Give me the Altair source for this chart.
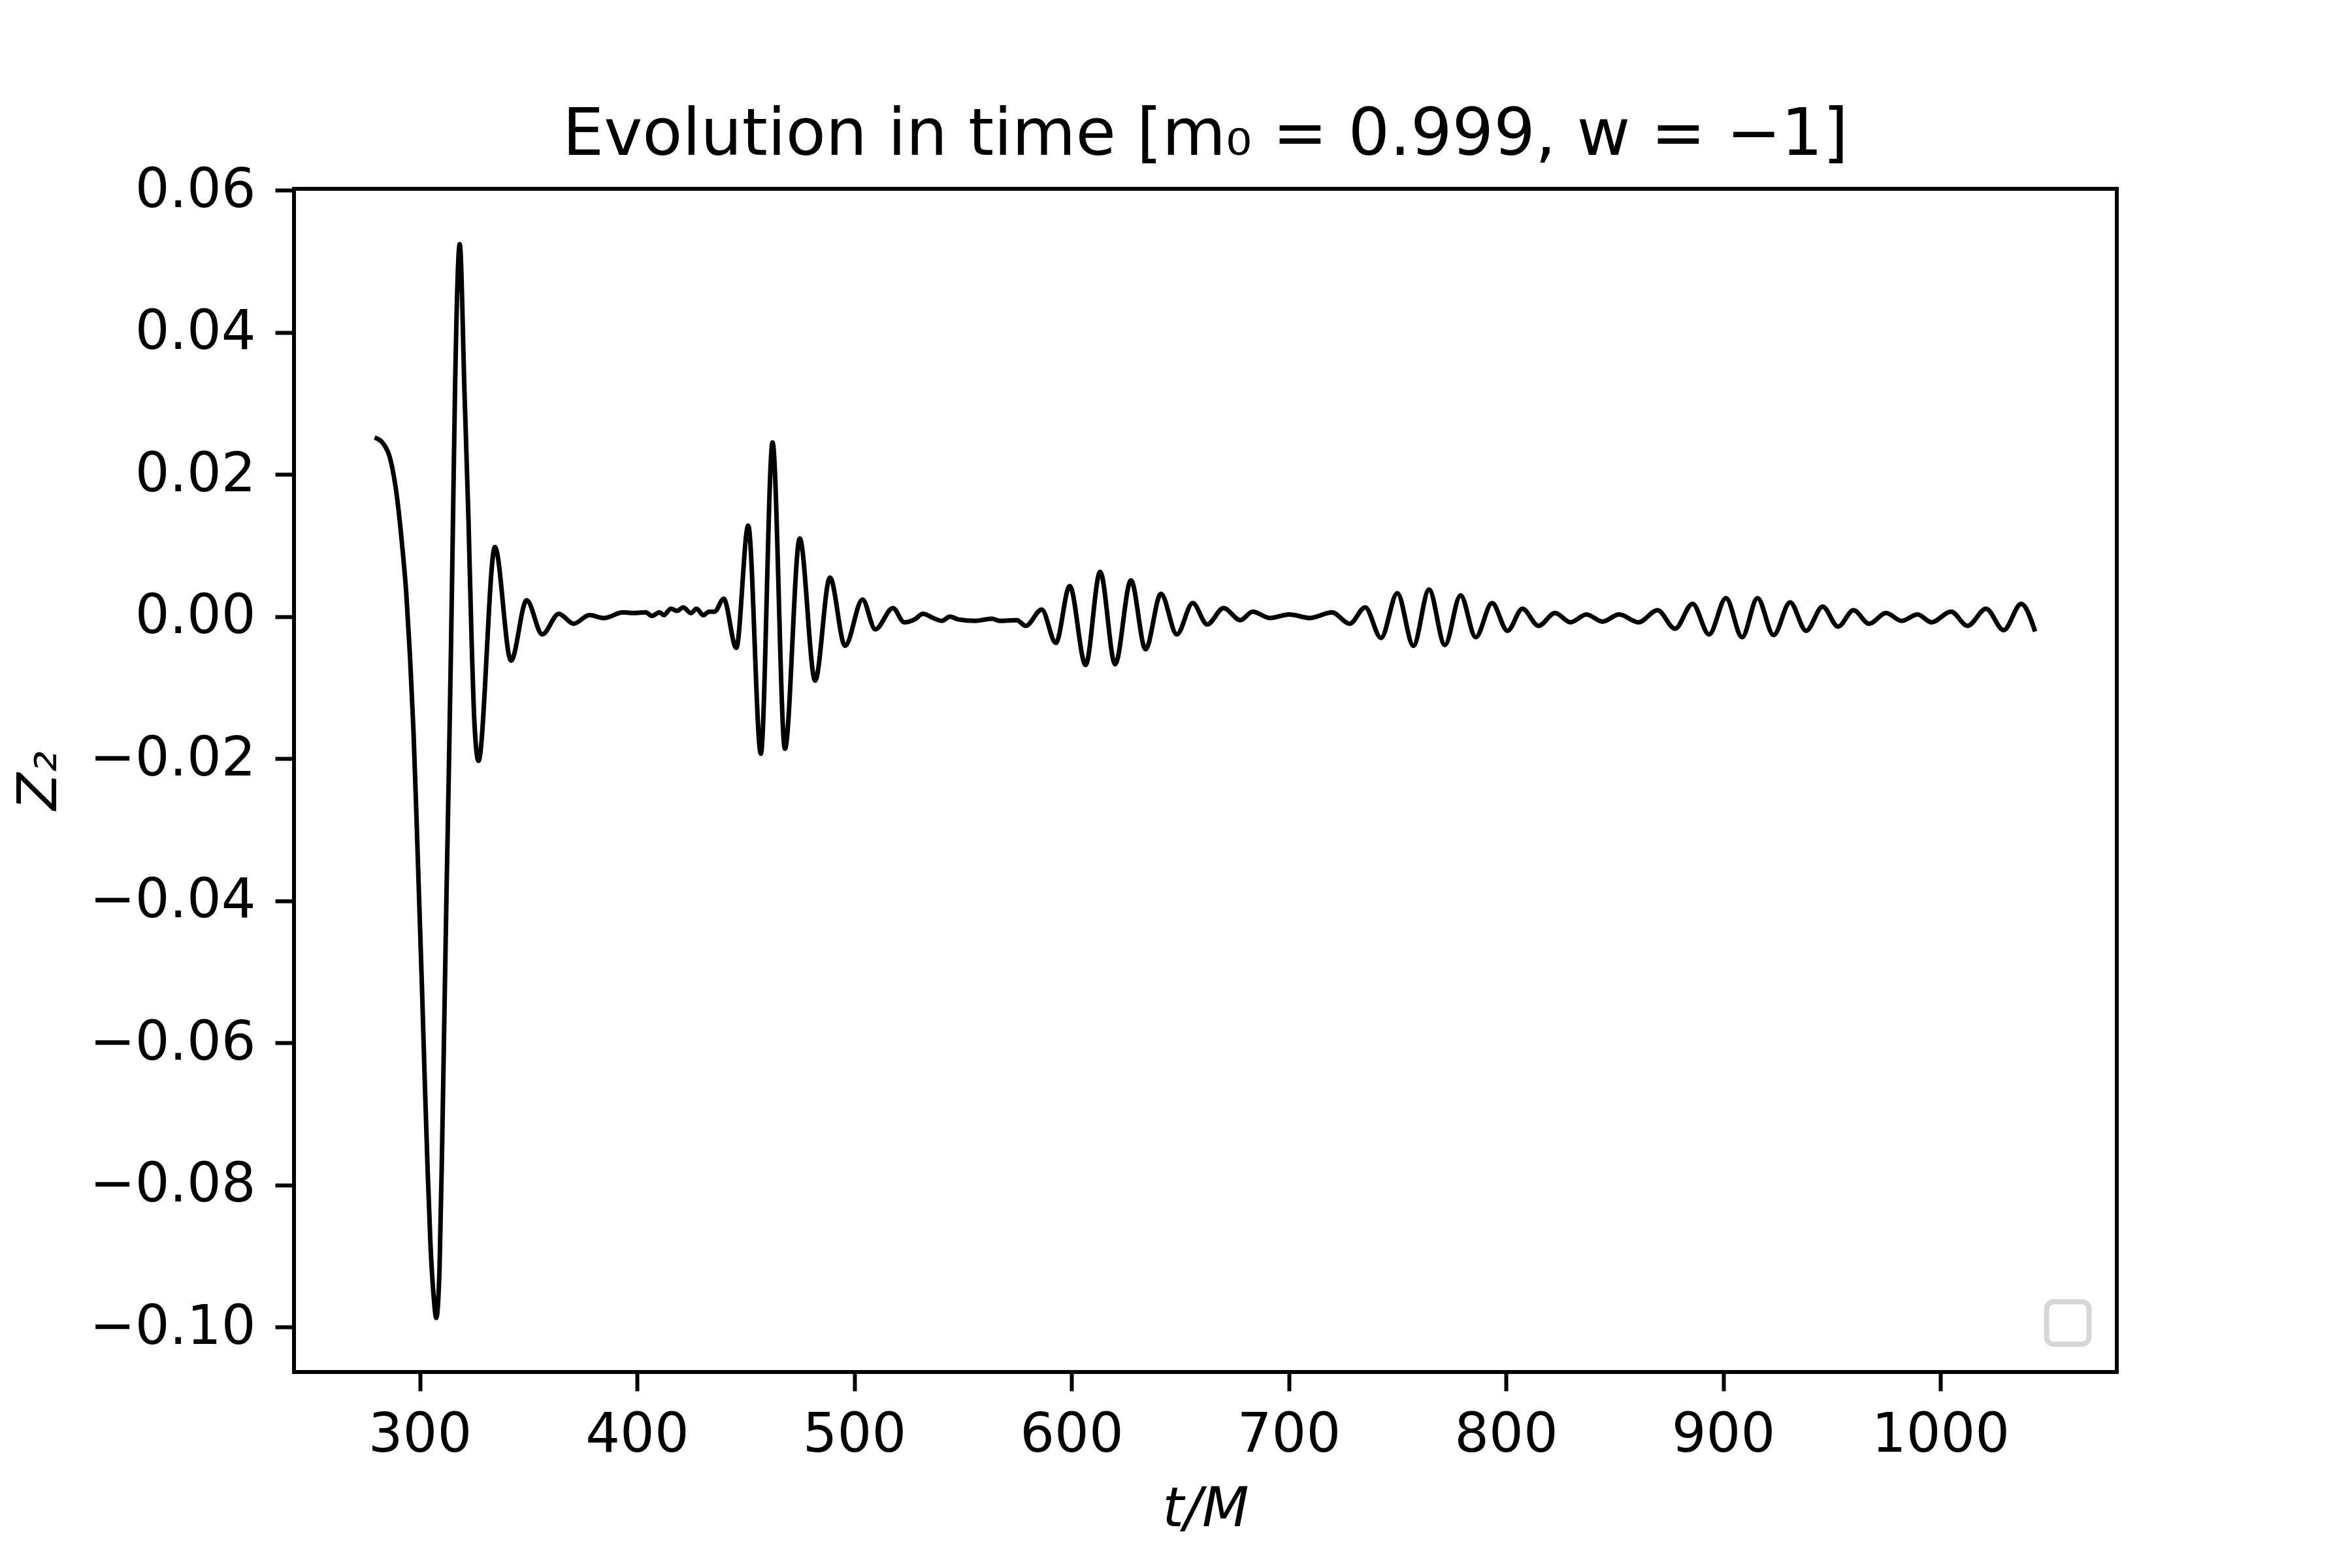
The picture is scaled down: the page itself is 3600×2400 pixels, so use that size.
import altair as alt
import pandas as pd

# time values (t/M)
t_vals = [
    279.2, 283.3, 286.8, 289.3, 291.8, 293.8, 295.5, 297.1, 298.5, 299.8,
    301.1, 302.3, 303.6, 304.9, 306.3, 307.6, 309.1, 310.3, 311.3, 312.3,
    313.4, 314.4, 315.3, 316.2, 318.4, 320.6, 322.4, 323.9, 325.2, 327.0,
    334.6, 342.0, 349.2, 356.4, 364.0, 370.8, 378.1, 384.9,
    393.5, 398.3, 404.0, 406.9, 410.4, 412.3, 415.6, 418.4, 421.3, 424.8,
    427.4, 430.5, 433.2, 435.7, 439.9, 445.7, 451.2, 457.0, 462.4, 468.1,
    474.9, 482.0, 488.8, 495.8, 503.8, 509.7, 517.8, 523.0, 527.8, 531.6,
    536.4, 540.3, 544.1, 547.9, 555.6, 563.3, 567.1, 574.8, 579.0, 586.3,
    592.8, 599.2, 606.5, 613.2, 620.1, 627.4, 634.1, 641.2, 648.5, 655.8,
    662.5, 670.0, 677.7, 683.4, 691.3, 700.3, 709.9, 719.9, 728.1, 735.2,
    742.5, 750.0, 757.4, 764.6, 771.9, 779.1, 786.1, 793.6, 800.7, 807.6,
    815.0, 822.6, 829.7, 837.1, 844.4, 852.1, 861.0, 869.8, 877.8, 885.9,
    893.5, 901.3, 908.7, 915.8, 923.2, 930.8, 938.2, 945.8, 952.9, 960.0,
    967.2, 975.0, 982.1, 989.5, 995.9, 1004.9, 1012.5, 1021.0, 1029.1, 1037.2,
    1043.6,
]

# Z_2 values
z_vals = [
    0.0252, 0.0243, 0.0217, 0.0173, 0.0103, 0.0032, -0.0056, -0.0161, -0.0284, -0.0407,
    -0.0531, -0.0654, -0.0777, -0.0882, -0.0953, -0.0987, -0.0917, -0.0742, -0.0566, -0.0390,
    -0.0214, -0.0038, 0.0138, 0.0314, 0.0524, 0.0314, 0.0138, -0.0038, -0.0152, -0.0203,
    0.0098, -0.0062, 0.0023, -0.0025, 0.0004, -0.0010, 0.0002, -0.0002,
    0.0006, 0.0005, 0.0006, 0.0001, 0.0006, 0.0002, 0.0011, 0.0008, 0.0013, 0.0005,
    0.0011, 0.0002, 0.0007, 0.0007, 0.0025, -0.0044, 0.0128, -0.0193, 0.0245, -0.0186,
    0.0110, -0.0090, 0.0055, -0.0041, 0.0024, -0.0018, 0.0012, -0.0008, -0.0004, 0.0004,
    -0.0002, -0.0006, 0.0000, -0.0004, -0.0006, -0.0003, -0.0006, -0.0005, -0.0013, 0.0010,
    -0.0037, 0.0043, -0.0068, 0.0063, -0.0067, 0.0051, -0.0046, 0.0032, -0.0025, 0.0019,
    -0.0011, 0.0012, -0.0005, 0.0007, -0.0002, 0.0003, -0.0002, 0.0006, -0.0010, 0.0013,
    -0.0030, 0.0033, -0.0041, 0.0038, -0.0040, 0.0030, -0.0029, 0.0019, -0.0020, 0.0011,
    -0.0013, 0.0005, -0.0008, 0.0003, -0.0007, 0.0003, -0.0008, 0.0009, -0.0017, 0.0018,
    -0.0025, 0.0026, -0.0029, 0.0026, -0.0026, 0.0020, -0.0020, 0.0014, -0.0014, 0.0009,
    -0.0010, 0.0005, -0.0006, 0.0003, -0.0008, 0.0007, -0.0013, 0.0011, -0.0019, 0.0018,
    -0.0021,
]

x_ticks = [300, 400, 500, 600, 700, 800, 900, 1000]
y_ticks = [-0.10, -0.08, -0.06, -0.04, -0.02, 0.00, 0.02, 0.04, 0.06]

title_text = "Evolution in time [m\u2080 = 0.999, w = \u22121]"
x_title = "t/M"
y_title = "Z\u2082"

df = pd.DataFrame({"t": t_vals, "z": z_vals})

W, H = 2790, 1811
FONT = "DejaVu Sans"

line = alt.Chart(df).mark_line(
    color="black", strokeWidth=7, interpolate="monotone", strokeJoin="round"
).encode(
    x=alt.X(
        "t:Q",
        scale=alt.Scale(domain=[242.1, 1081.2], nice=False, zero=False),
        axis=alt.Axis(
            values=x_ticks, format="d", title=x_title,
            titleFont=FONT, titleFontSize=83, titleFontStyle="italic",
            titleFontWeight="normal", titleColor="black",
            titleBaseline="alphabetic", titleY=235, titleX=W / 2,
            labelFont=FONT, labelFontSize=83, labelColor="black",
            labelPadding=26, labelOverlap=False, labelFlush=False,
            labelLimit=1000,
            tickSize=29, tickWidth=6, tickColor="black",
            domain=False, grid=False,
        ),
    ),
    y=alt.Y(
        "z:Q",
        scale=alt.Scale(domain=[-0.1063, 0.0602], nice=False, zero=False),
        axis=alt.Axis(
            values=y_ticks, title=y_title,
            labelExpr="replace(format(datum.value, '.2f'), '-', '\u2212')",
            titleFont=FONT, titleFontSize=83, titleFontStyle="italic",
            titleFontWeight="normal", titleColor="black",
            titleAngle=270, titleAlign="center", titleBaseline="alphabetic",
            titleX=-365, titleY=H / 2,
            labelFont=FONT, labelFontSize=83, labelColor="black",
            labelPadding=30, labelOverlap=False, labelFlush=False,
            labelLimit=1000,
            tickSize=29, tickWidth=6, tickColor="black",
            domain=False, grid=False,
        ),
    ),
)

# empty legend frame drawn by matplotlib in the lower right corner
legend_box = alt.Chart(pd.DataFrame({"k": [0]})).mark_rect(
    fill="white", stroke="#d6d6d6", strokeWidth=8, cornerRadius=11
).encode(
    x=alt.value(2682.5), x2=alt.value(2747.5),
    y=alt.value(1703.5), y2=alt.value(1768.5),
)

chart = alt.layer(line, legend_box).properties(
    width=W,
    height=H,
    background="white",
    autosize=alt.AutoSizeParams(type="none"),
    padding={"left": 442, "top": 281, "right": 350, "bottom": 290},
    title=alt.TitleParams(
        title_text, font=FONT, fontSize=100, fontWeight="normal",
        color="black", anchor="middle", frame="group",
        baseline="alphabetic", offset=52, dy=139,
    ),
).configure_view(
    stroke="black", strokeWidth=6
)

chart.save("out.html", embed_options={"renderer": "svg", "actions": False})
